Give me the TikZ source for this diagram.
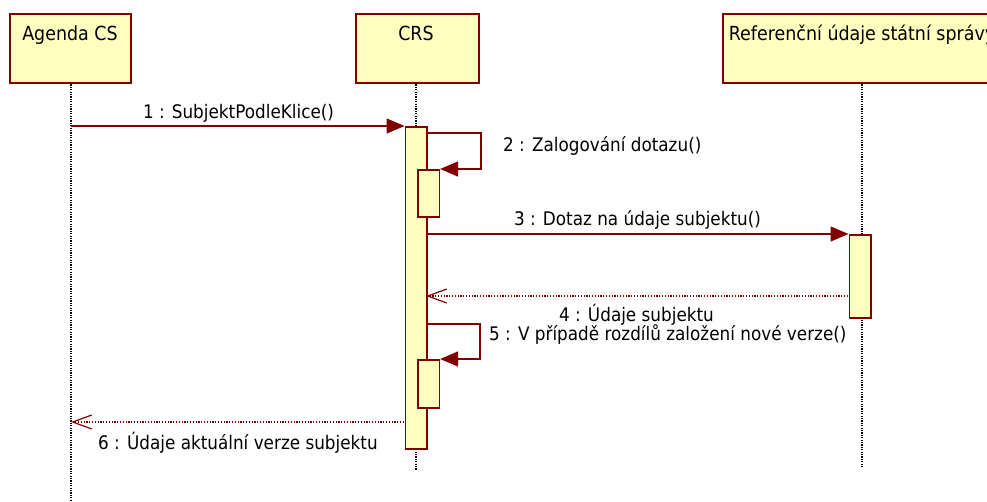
\documentclass[tikz,border=0pt]{standalone}
\usepackage{fontspec}
\setmainfont[FakeStretch=0.9]{DejaVu Sans}
\usetikzlibrary{arrows.meta}
\definecolor{umlred}{RGB}{128,0,0}
\definecolor{umlfill}{RGB}{255,255,192}
\tikzset{
  lifebox/.style={draw=umlred, fill=umlfill, line width=1.6pt, inner sep=0pt, anchor=north west},
  actbar/.style={draw=umlred, fill=umlfill, line width=1.6pt, inner sep=0pt, anchor=north west, minimum width=21.5pt},
  titletext/.style={font=\fontsize{19.4}{23}\selectfont, inner sep=0pt, anchor=base, text=black},
  msgtext/.style={font=\fontsize{18.7}{22}\selectfont, inner sep=0pt, text=black},
  lifeline/.style={draw=black, line width=1.3pt, dash pattern=on 1.1pt off 1.3pt},
  msg/.style={draw=umlred, line width=1.4pt, -{Triangle[length=18pt,width=15pt]}},
  ret/.style={draw=umlred, line width=1.2pt, dash pattern=on 1.2pt off 1.6pt, -{Straight Barb[length=19pt,width=14pt]}},
}
\begin{document}
\begin{tikzpicture}[x=1pt,y=-1pt]
\clip (0,0) rectangle (987,501);
\fill[white] (0,0) rectangle (987,501);

% lifelines
\coordinate (aTop) at (71,82);
\coordinate (aBot) at (71,501);
\coordinate (cTop) at (416,82);
\coordinate (cBot) at (416,470);
\coordinate (rTop) at (862,82);
\coordinate (rBot) at (862,468);
\draw[lifeline] (aTop) -- (aBot);
\draw[lifeline] (cTop) -- (cBot);
\draw[lifeline] (rTop) -- (rBot);

% heads
\node[lifebox, minimum width=121pt, minimum height=69pt] (agenda) at (9,13) {};
\node[titletext] (agendaT) at (70,40) {Agenda CS};
\node[lifebox, minimum width=123pt, minimum height=69pt] (crs) at (355,13) {};
\node[titletext] (crsT) at (416,40) {CRS};
\node[lifebox, minimum width=280pt, minimum height=69pt] (ref) at (722,13) {};
\node[titletext] (refT) at (862,40) {Referenční údaje státní správy};

% activation bars
\node[actbar, minimum height=322pt] (crsbar) at (404.5,126) {};
\node[actbar, minimum height=47pt] (nest1) at (417,169) {};
\node[actbar, minimum height=48pt] (nest2) at (417,359) {};
\node[actbar, minimum height=83pt] (refbar) at (848.5,234) {};

% message 1
\coordinate (m1s) at (71,126);
\draw[msg] (m1s) -- (crsbar.north west);
\node[msgtext, anchor=base] (l1) at (238.5,118) {1 : SubjektPodleKlice()};

% message 2 (self)
\coordinate (m2s) at (426,133);
\draw[msg] (m2s) -- (481,133) |- (nest1.north east);
\node[msgtext, anchor=base west] (l2) at (503,151) {2 : Zalogování dotazu()};

% message 3
\draw[msg] (crsbar.east |- refbar.north west) -- (refbar.north west);
\node[msgtext, anchor=base] (l3) at (637.5,225) {3 : Dotaz na údaje subjektu()};

% message 4 (return)
\coordinate (m4s) at (848,296);
\coordinate (m4e) at (426,296);
\draw[ret] (m4s) -- (m4e);
\node[msgtext, anchor=base] (l4) at (636.5,321) {4 : Údaje subjektu};

% message 5 (self)
\coordinate (m5s) at (426,324);
\draw[msg] (m5s) -- (480,324) |- (nest2.north east);
\node[msgtext, anchor=base west] (l5) at (489,340) {5 : V případě rozdílů založení nové verze()};

% message 6 (return)
\coordinate (m6s) at (404,422);
\coordinate (m6e) at (71,422);
\draw[ret] (m6s) -- (m6e);
\node[msgtext, anchor=base west] (l6) at (98,449) {6 : Údaje aktuální verze subjektu};
\end{tikzpicture}
\end{document}
